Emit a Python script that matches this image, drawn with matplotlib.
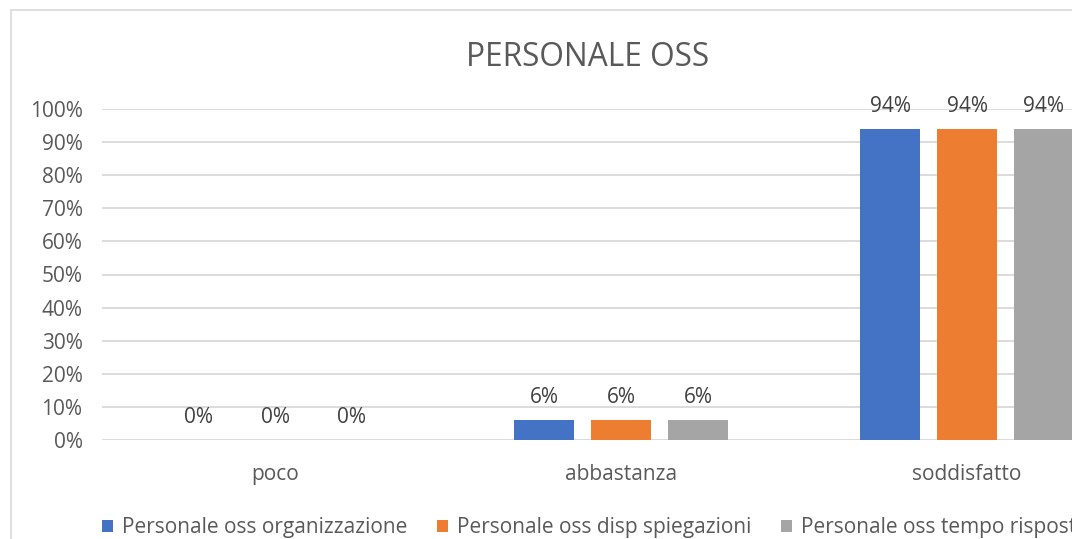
import matplotlib
matplotlib.use("Agg")
import matplotlib.pyplot as plt
from matplotlib.patches import Rectangle
import numpy as np

# data
categories = ["poco", "abbastanza", "soddisfatto"]
series_names = [
    "Personale oss organizzazione",
    "Personale oss disp spiegazioni",
    "Personale oss tempo risposta",
]
organizzazione = [0.00, 0.06, 0.94]
spiegazioni = [0.00, 0.06, 0.94]
tempo_risposta = [0.00, 0.06, 0.94]
colors = ["#4472C4", "#ED7D31", "#A5A5A5"]

plt.rcParams["font.family"] = ["Open Sans", "DejaVu Sans"]
W, H = 1072, 539
fig = plt.figure(figsize=(W / 100, H / 100), dpi=100)

# chart border (cropped on the right/bottom like the original)
fig.patches.append(Rectangle((11 / W, -0.05), 2.0, (H - 10) / H + 0.05,
                             transform=fig.transFigure, fill=False,
                             edgecolor="#d9d9d9", linewidth=1.2))

ax = fig.add_axes([102 / W, (H - 440) / H, 1038 / W, 331 / H])

x = np.arange(len(categories))
width = 0.173
step = 0.2225
for i, (vals, name) in enumerate(zip([organizzazione, spiegazioni, tempo_risposta], series_names)):
    b = ax.bar(x + (i - 1) * step, vals, width, color=colors[i], label=name, zorder=3)
    for rect, v in zip(b, vals):
        ax.annotate(f"{v:.0%}", (rect.get_x() + rect.get_width() / 2, v),
                    xytext=(0, 8.5), textcoords="offset points", ha="center", va="bottom",
                    fontsize=15, color="#404040", annotation_clip=False)

ax.set_xlim(-0.5, 2.5)
ax.set_ylim(0, 1.0)
ticks = np.arange(0, 1.01, 0.1)
ax.set_yticks(ticks)
ax.set_yticklabels([f"{t:.0%}" for t in ticks])
ax.set_xticks(x)
ax.set_xticklabels(categories)
ax.tick_params(axis="both", length=0, labelsize=15, labelcolor="#595959")
ax.tick_params(axis="y", pad=14)
ax.tick_params(axis="x", pad=17)
ax.grid(axis="y", color="#d9d9d9", linewidth=1.3, zorder=0)
ax.set_axisbelow(True)
for s in ax.spines.values():
    s.set_visible(False)

fig.text(588 / W, (H - 57) / H, "PERSONALE OSS", ha="center", va="center",
         fontsize=22.8, color="#595959")

# legend runs past the right edge, as in the cropped original
ax.legend(loc="center left", bbox_to_anchor=(102 / W, (H - 528) / H),
          bbox_transform=fig.transFigure, ncol=3, frameon=False,
          fontsize=15, labelcolor="#595959", handlelength=0.55,
          handleheight=0.55, handletextpad=0.4, columnspacing=1.43,
          borderaxespad=0, borderpad=0)

fig.savefig("out.png", dpi=100)
